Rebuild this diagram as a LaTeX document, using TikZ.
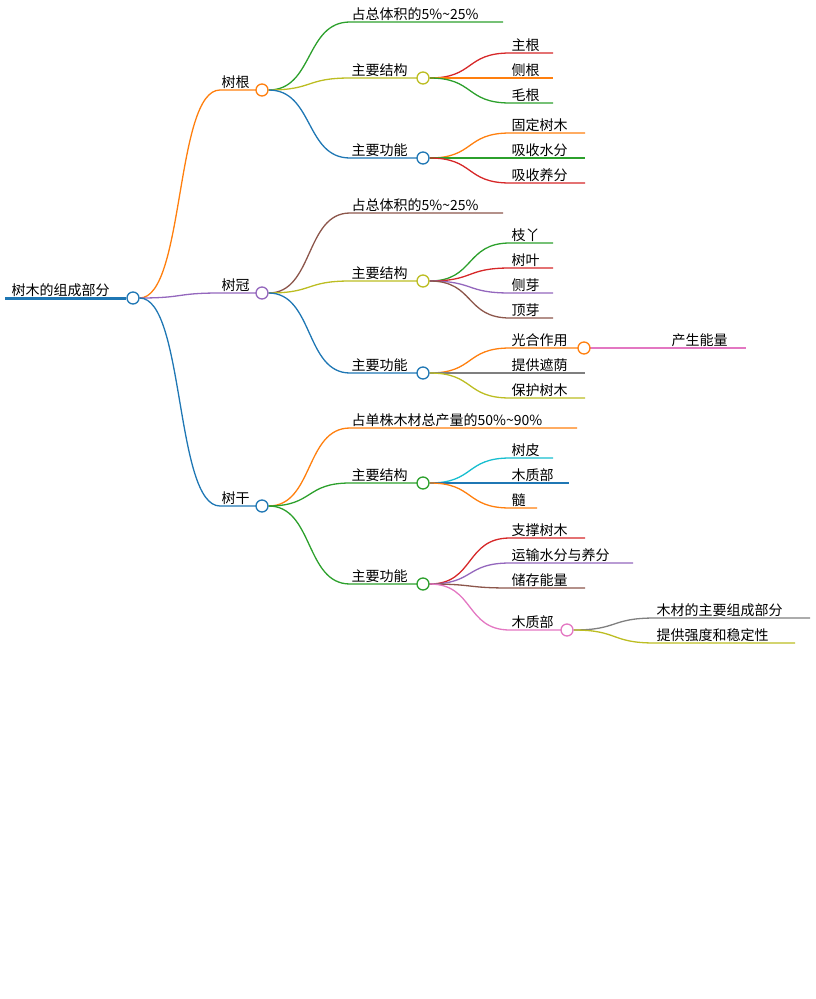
\documentclass[tikz,border=0pt]{standalone}
\usepackage{fontspec}
\setmainfont{Noto Sans CJK SC}
\pgfdeclarelayer{bg}\pgfsetlayers{bg,main}
\definecolor{cO}{HTML}{FF7F0E}\definecolor{cB}{HTML}{1F77B4}\definecolor{cG}{HTML}{2CA02C}
\definecolor{cR}{HTML}{D62728}\definecolor{cP}{HTML}{9467BD}\definecolor{cBr}{HTML}{8C564B}
\definecolor{cPk}{HTML}{E377C2}\definecolor{cGr}{HTML}{7F7F7F}\definecolor{cOl}{HTML}{BCBD22}
\definecolor{cC}{HTML}{17BECF}
\tikzset{lbl/.style={anchor=south west,inner sep=1.5pt,font=\fontsize{14}{16}\selectfont},
 dot/.style={circle,draw=#1,fill=white,line width=1.3pt,minimum size=12pt,inner sep=0pt},
 wire/.style={draw=#1,line width=1.3pt}}
% name, parent, xstart, xend, y, color, text
\newcommand\br[7]{%
 \coordinate (#1s) at (#3,#5); \coordinate (#1e) at (#4,#5);
 \node[lbl] (#1) at (#1s) {#7};
 \begin{pgfonlayer}{bg}
 \draw[wire=#6] (#2.east) .. controls +(45,0) and +(-45,0) .. (#1s) -- (#1e);
 \end{pgfonlayer}}
\begin{document}
\begin{tikzpicture}[x=1pt,y=-1pt]
\useasboundingbox (0,0) rectangle (816,999);
% root
\coordinate (roots) at (5,298);
\node[dot=cB] (root) at (133,298) {};
\node[lbl] (roott) at (10,298) {树木的组成部分};
\begin{pgfonlayer}{bg}\draw[cB,line width=3pt] (roots) -- (root);\end{pgfonlayer}
% level 1
\node[dot=cO] (gen) at (262,90) {};
\node[dot=cP] (guan) at (262,293) {};
\node[dot=cB] (gan) at (262,506) {};
\br{a}{root}{220}{262}{90}{cO}{树根}
\br{b}{root}{220}{262}{293}{cP}{树冠}
\br{c}{root}{220}{262}{506}{cB}{树干}
% 树根
\node[dot=cOl] (gs) at (423,78) {};
\node[dot=cB] (gf) at (423,158) {};
\br{a1}{gen}{350}{503}{22}{cG}{占总体积的5\%\textasciitilde25\%}
\br{a2}{gen}{350}{423}{78}{cOl}{主要结构}
\br{a3}{gen}{350}{423}{158}{cB}{主要功能}
\br{a21}{gs}{510}{553}{53}{cR}{主根}
\br{a22}{gs}{510}{553}{78}{cO}{侧根}
\br{a23}{gs}{510}{553}{103}{cG}{毛根}
\br{a31}{gf}{510}{585}{133}{cO}{固定树木}
\br{a32}{gf}{510}{585}{158}{cG}{吸收水分}
\br{a33}{gf}{510}{585}{183}{cR}{吸收养分}
% 树冠
\node[dot=cOl] (bs) at (423,281) {};
\node[dot=cB] (bf) at (423,373) {};
\node[dot=cO] (gh) at (584,348) {};
\br{b1}{guan}{350}{503}{213}{cBr}{占总体积的5\%\textasciitilde25\%}
\br{b2}{guan}{350}{423}{281}{cOl}{主要结构}
\br{b3}{guan}{350}{423}{373}{cB}{主要功能}
\br{b21}{bs}{510}{553}{243}{cG}{枝丫}
\br{b22}{bs}{510}{553}{268}{cR}{树叶}
\br{b23}{bs}{510}{553}{293}{cP}{侧芽}
\br{b24}{bs}{510}{553}{318}{cBr}{顶芽}
\br{b31}{bf}{510}{584}{348}{cO}{光合作用}
\br{b32}{bf}{510}{585}{373}{cGr}{提供遮荫}
\br{b33}{bf}{510}{585}{398}{cOl}{保护树木}
\coordinate (b311s) at (590,348); \coordinate (b311e) at (746,348);
\node[lbl] (b311) at (670,348) {产生能量};
\begin{pgfonlayer}{bg}\draw[wire=cPk] (gh.east) -- (b311s) -- (b311e);\end{pgfonlayer}
% 树干
\node[dot=cG] (cs) at (423,483) {};
\node[dot=cG] (cf) at (423,584) {};
\node[dot=cPk] (mz) at (567,630) {};
\br{c1}{gan}{350}{577}{428}{cO}{占单株木材总产量的50\%\textasciitilde90\%}
\br{c2}{gan}{350}{423}{483}{cG}{主要结构}
\br{c3}{gan}{350}{423}{584}{cG}{主要功能}
\br{c21}{cs}{510}{553}{458}{cC}{树皮}
\br{c22}{cs}{510}{569}{483}{cB}{木质部}
\br{c23}{cs}{510}{537}{508}{cO}{髓}
\br{c31}{cf}{510}{585}{538}{cR}{支撑树木}
\br{c32}{cf}{510}{633}{563}{cP}{运输水分与养分}
\br{c33}{cf}{510}{585}{588}{cBr}{储存能量}
\br{c34}{cf}{510}{567}{630}{cPk}{木质部}
\br{c341}{mz}{655}{810}{618}{cGr}{木材的主要组成部分}
\br{c342}{mz}{655}{795}{643}{cOl}{提供强度和稳定性}
\end{tikzpicture}
\end{document}
